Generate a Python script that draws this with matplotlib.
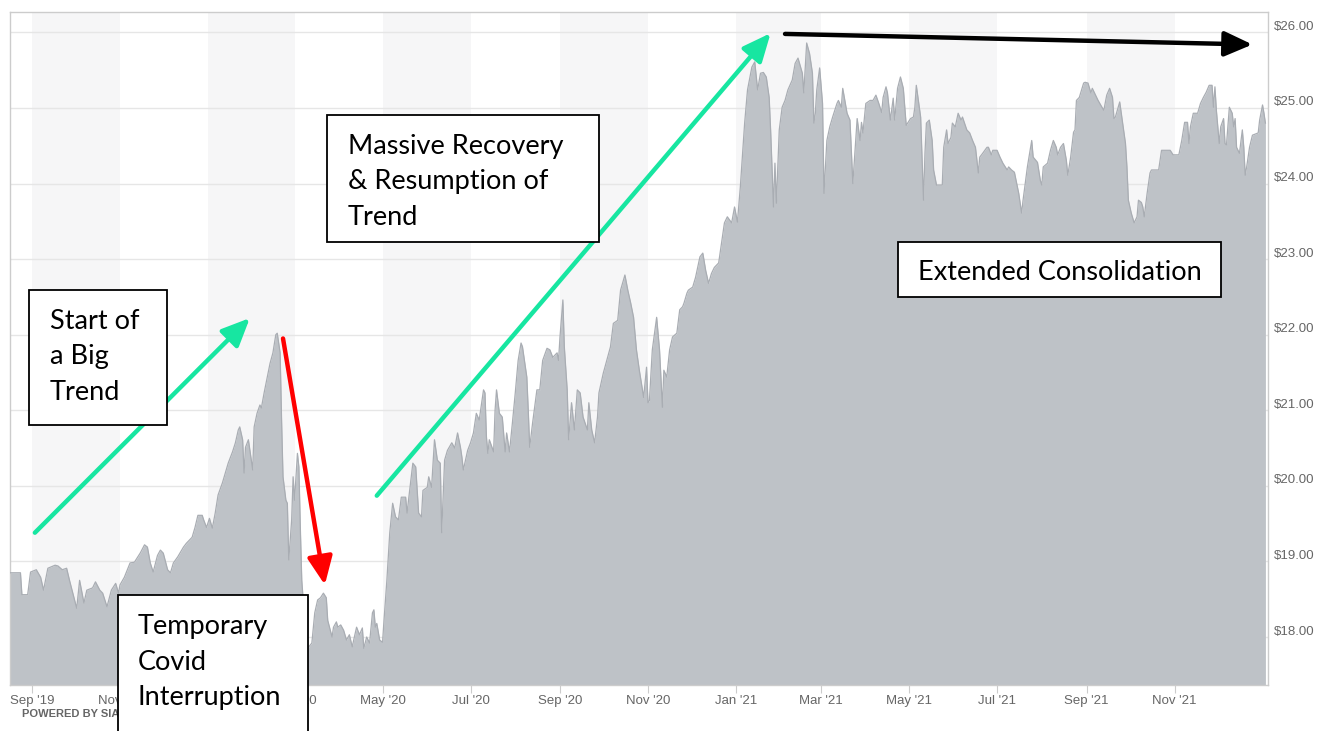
import numpy as np
import matplotlib
matplotlib.use("Agg")
import matplotlib.pyplot as plt
import matplotlib.dates as mdates
from matplotlib.patches import Rectangle
from matplotlib.transforms import ScaledTranslation

# ---------------- data ----------------
start_date = "2019-09-01"   # day 0 of the day offsets below

days = [-15, -8, -7, -3, -1, 3, 6, 8, 11, 16, 18, 21, 24, 26, 31, 33, 36, 38, 42, 44,
        47, 49, 52, 55, 58, 60, 61, 64, 68, 71, 75, 78, 80, 82, 84, 87, 89, 91, 94, 96,
        98, 101, 105, 107, 111, 113, 115, 118, 119, 121, 123, 125, 127, 129, 132, 136, 139, 141, 143, 144,
        146, 147, 148, 150, 153, 154, 156, 158, 159, 161, 163, 165, 167, 169, 170, 172, 173, 174, 176, 177,
        178, 180, 181, 182, 184, 185, 186, 187, 189, 191, 194, 196, 198, 200, 202, 204, 205, 208, 209, 211,
        212, 214, 216, 218, 220, 222, 223, 225, 227, 229, 230, 232, 234, 236, 237, 238, 239, 241, 243, 244,
        246, 248, 250, 252, 254, 256, 259, 260, 261, 264, 266, 268, 270, 271, 274, 275, 277, 279, 281, 283,
        284, 286, 288, 291, 293, 295, 297, 298, 299, 302, 304, 306, 308, 310, 313, 314, 315, 316, 317, 320,
        321, 322, 324, 326, 328, 329, 331, 333, 335, 337, 339, 340, 343, 344, 345, 347, 350, 352, 354, 357,
        359, 361, 364, 365, 366, 368, 369, 371, 372, 374, 376, 378, 380, 382, 385, 386, 388, 390, 392, 393,
        396, 399, 401, 403, 406, 408, 411, 413, 415, 417, 419, 421, 424, 426, 427, 428, 430, 433, 435, 437,
        438, 440, 442, 444, 447, 449, 451, 452, 454, 455, 458, 460, 461, 463, 465, 467, 469, 471, 473, 476,
        478, 480, 482, 485, 487, 489, 491, 494, 496, 499, 501, 503, 505, 507, 509, 511, 512, 514, 515, 516,
        518, 520, 522, 524, 527, 529, 531, 534, 535, 537, 539, 541, 542, 543, 544, 546, 548, 549, 551, 553,
        555, 558, 559, 561, 562, 565, 567, 569, 571, 572, 574, 575, 576, 578, 581, 583, 585, 587, 589, 590,
        592, 593, 595, 597, 598, 600, 602, 604, 606, 609, 611, 612, 613, 616, 617, 618, 619, 620, 622, 624,
        625, 627, 631, 632, 634, 635, 637, 638, 640, 642, 644, 645, 648, 650, 652, 654, 656, 657, 659, 662,
        663, 665, 666, 669, 671, 673, 676, 677, 679, 681, 684, 686, 687, 690, 693, 694, 697, 699, 700, 701,
        704, 706, 708, 710, 711, 713, 715, 717, 718, 720, 722, 723, 724, 726, 729, 730, 732, 734, 735, 738,
        739, 742, 743, 745, 747, 749, 750, 751, 753, 754, 756, 758, 759, 760, 762, 764, 766, 767, 769, 770,
        771, 773, 775, 776, 780, 781, 783, 787, 789, 791, 795, 797, 799, 801, 802, 803, 805, 808, 810, 812,
        814, 816, 818, 819, 820, 821, 823, 824, 826, 827, 828, 830, 832, 833, 834, 835, 837, 839, 840, 841,
        842, 844, 846, 850, 851, 853, 854, 855]

prices = [18.85, 18.85, 18.56, 18.56, 18.86, 18.89, 18.79, 18.62, 18.91, 18.95, 18.94, 18.89, 18.91, 18.75, 18.38, 18.75, 18.45, 18.62, 18.65, 18.73,
          18.62, 18.58, 18.40, 18.62, 18.71, 18.58, 18.69, 18.79, 18.98, 18.99, 19.11, 19.22, 19.19, 18.98, 18.86, 19.08, 19.15, 19.11, 18.89, 18.85,
          18.98, 19.06, 19.19, 19.24, 19.32, 19.45, 19.61, 19.61, 19.55, 19.45, 19.57, 19.44, 19.64, 19.88, 20.04, 20.30, 20.45, 20.57, 20.74, 20.78,
          20.61, 20.17, 20.51, 20.61, 20.21, 20.78, 20.96, 21.07, 21.03, 21.24, 21.43, 21.62, 21.76, 22.00, 22.02, 21.76, 20.87, 20.12, 19.81, 19.77,
          19.02, 19.55, 20.12, 19.81, 20.43, 20.25, 19.45, 18.75, 18.22, 17.85, 17.92, 18.32, 18.49, 18.52, 18.58, 18.52, 18.22, 18.00, 18.13, 18.20,
          18.13, 18.16, 18.09, 17.96, 18.03, 17.87, 17.96, 18.13, 18.03, 18.12, 17.85, 18.00, 17.92, 18.32, 18.36, 18.13, 18.18, 17.96, 17.93, 18.22,
          18.75, 19.38, 19.77, 19.59, 19.55, 19.85, 19.85, 19.64, 19.81, 20.30, 20.25, 19.64, 19.59, 19.94, 19.98, 20.12, 19.98, 20.61, 20.34, 20.30,
          19.38, 20.34, 20.47, 20.57, 20.50, 20.70, 20.51, 20.38, 20.21, 20.47, 20.57, 20.70, 20.96, 20.87, 21.27, 21.23, 20.65, 20.43, 20.61, 20.45,
          21.00, 21.27, 20.96, 20.91, 20.45, 20.70, 20.45, 20.83, 21.23, 21.66, 21.89, 21.84, 21.44, 21.00, 20.51, 20.83, 21.27, 21.27, 21.66, 21.82,
          21.80, 21.70, 21.76, 21.66, 21.97, 22.46, 21.84, 21.27, 20.61, 21.10, 20.74, 21.27, 21.23, 20.91, 20.74, 21.10, 20.74, 20.57, 20.91, 21.23,
          21.49, 21.70, 21.84, 22.15, 22.19, 22.59, 22.79, 22.59, 22.42, 22.23, 21.80, 21.53, 21.17, 21.57, 21.10, 21.13, 21.80, 22.23, 21.80, 21.04,
          21.53, 21.44, 21.80, 21.97, 22.02, 22.33, 22.37, 22.42, 22.55, 22.59, 22.63, 22.76, 22.85, 23.03, 23.08, 22.85, 22.68, 22.81, 22.89, 22.95,
          23.21, 23.48, 23.56, 23.48, 23.69, 23.49, 23.95, 24.80, 25.24, 25.54, 25.61, 25.24, 25.46, 25.47, 25.41, 25.14, 24.71, 23.69, 24.27, 23.74,
          24.71, 25.01, 25.10, 25.24, 25.37, 25.59, 25.66, 25.46, 25.20, 25.86, 25.72, 25.46, 24.80, 24.93, 25.24, 25.53, 25.06, 23.87, 24.57, 24.75,
          24.88, 25.06, 25.10, 25.01, 25.26, 24.93, 24.84, 24.00, 24.57, 24.86, 24.57, 24.81, 24.67, 25.06, 25.10, 25.10, 25.17, 25.06, 24.94, 25.14,
          25.28, 25.20, 24.84, 25.13, 24.84, 25.26, 25.41, 25.26, 24.77, 24.86, 24.88, 25.01, 25.30, 24.88, 24.31, 23.78, 24.40, 24.80, 24.84, 24.57,
          24.18, 23.98, 23.98, 24.48, 24.71, 24.53, 24.61, 24.80, 24.75, 24.93, 24.84, 24.88, 24.71, 24.67, 24.57, 24.48, 24.14, 24.35, 24.40, 24.48,
          24.48, 24.38, 24.44, 24.44, 24.35, 24.27, 24.18, 24.22, 24.18, 24.15, 23.87, 23.61, 23.78, 24.22, 24.57, 24.35, 24.28, 24.04, 23.98, 24.22,
          24.27, 24.44, 24.57, 24.48, 24.38, 24.48, 24.53, 24.31, 24.11, 24.35, 24.68, 24.71, 25.10, 25.14, 25.33, 25.34, 25.33, 25.20, 25.26, 25.14,
          25.10, 25.00, 24.97, 25.17, 25.26, 25.14, 24.86, 24.88, 25.01, 25.08, 24.80, 24.53, 24.22, 23.78, 23.61, 23.48, 23.56, 23.78, 23.75, 23.69,
          23.56, 23.87, 24.14, 24.18, 24.18, 24.18, 24.44, 24.44, 24.44, 24.38, 24.38, 24.57, 24.81, 24.81, 24.53, 24.75, 24.93, 24.93, 25.06, 25.14,
          25.21, 25.30, 25.30, 25.01, 25.28, 24.97, 24.53, 24.75, 24.86, 24.53, 24.51, 25.01, 24.93, 24.75, 24.86, 24.48, 24.40, 24.71, 24.48, 24.11,
          24.22, 24.48, 24.64, 24.67, 24.84, 25.04, 24.93, 24.80]

tick_dates = ["2019-09-01", "2019-11-01", "2020-01-01", "2020-03-01", "2020-05-01", "2020-07-01", "2020-09-01",
              "2020-11-01", "2021-01-01", "2021-03-01", "2021-05-01", "2021-07-01", "2021-09-01", "2021-11-01"]
tick_labels = ["Sep '19", "Nov '19", "Jan '20", "Mar '20", "May '20", "Jul '20", "Sep '20",
               "Nov '20", "Jan '21", "Mar '21", "May '21", "Jul '21", "Sep '21", "Nov '21"]
band_starts = ["2019-09-01", "2020-01-01", "2020-05-01", "2020-09-01", "2021-01-01", "2021-05-01", "2021-09-01"]
band_ends = ["2019-11-01", "2020-03-01", "2020-07-01", "2020-11-01", "2021-03-01", "2021-07-01", "2021-11-01"]
price_ticks = [18, 19, 20, 21, 22, 23, 24, 25, 26]
price_tick_labels = ["$18.00", "$19.00", "$20.00", "$21.00", "$22.00", "$23.00", "$24.00", "$25.00", "$26.00"]

# annotation arrows: (start day, start price, end day, end price, colour)
arrow_start_days = [2, 174, 239, 522]
arrow_start_prices = [19.38, 21.95, 19.87, 25.98]
arrow_end_days = [151, 203, 512, 846]
arrow_end_prices = [22.22, 18.69, 25.99, 25.84]
arrow_colors = ["#17e6a1", "#ff0000", "#17e6a1", "#000000"]

box_texts = ["Start of\na Big\nTrend", "Massive Recovery\n& Resumption of\nTrend",
             "Temporary\nCovid\nInterruption", "Extended Consolidation"]

# ---------------- figure ----------------
W, H = 1328, 731
fig = plt.figure(figsize=(W / 100, H / 100), dpi=100)
fig.patch.set_facecolor("white")

ax_l, ax_r, ax_t, ax_b = 10, 1268, 12, 685
ax = fig.add_axes([ax_l / W, 1 - ax_b / H, (ax_r - ax_l) / W, (ax_b - ax_t) / H])

base = np.datetime64(start_date)
dates = base + np.array(days, dtype="timedelta64[D]")
x = mdates.date2num(dates.astype("datetime64[s]").astype(object))
y = np.array(prices)

def dnum(s):
    return mdates.date2num(np.datetime64(s).astype("datetime64[s]").astype(object))

def daynum(d):
    return mdates.date2num((base + np.timedelta64(int(round(d * 24)), "h")).astype("datetime64[s]").astype(object))

ymin, ymax = 17.365, 26.27
for s, e in zip(band_starts, band_ends):
    ax.axvspan(dnum(s), dnum(e), color="#f6f6f7", zorder=0, lw=0)
for p in price_ticks:
    ax.axhline(p, color="#e6e6e6", lw=1, zorder=1)

ax.fill_between(x, ymin - 1, y, color="#bec2c7", lw=0, zorder=2)
ax.plot(x, y, color="#a9adb3", lw=0.9, zorder=3)

ax.set_xlim(daynum(-15.25), daynum(856.8))
ax.set_ylim(ymin, ymax)

ax.set_xticks([dnum(t) for t in tick_dates])
ax.set_xticklabels(tick_labels)
ax.tick_params(axis="x", length=6, color="#cccccc", labelsize=9.5, labelcolor="#666666", pad=1)
for lab in ax.get_xticklabels():
    lab.set_fontfamily("Liberation Sans")

ax.yaxis.tick_right()
ax.set_yticks(price_ticks)
ax.set_yticklabels(price_tick_labels)
ax.tick_params(axis="y", length=0, labelsize=9.5, labelcolor="#666666", pad=4)
for lab in ax.get_yticklabels():
    lab.set_fontfamily("Liberation Sans")
    lab.set_transform(lab.get_transform() + ScaledTranslation(0, 7 / 100, fig.dpi_scale_trans))

for sp in ax.spines.values():
    sp.set_color("#cccccc")
    sp.set_linewidth(1)

fig.text(22 / W, 1 - 714 / H, "POWERED BY SIACHARTS", fontsize=8, fontweight="bold",
         color="#666666", family="Liberation Sans", va="center", ha="left")

# arrows
for sd, sp_, ed, ep, c in zip(arrow_start_days, arrow_start_prices, arrow_end_days, arrow_end_prices, arrow_colors):
    ax.annotate("", xy=(daynum(ed), ep), xytext=(daynum(sd), sp_),
                arrowprops=dict(arrowstyle="-|>,head_length=0.85,head_width=0.38", lw=3.2, color=c,
                                shrinkA=0, shrinkB=0, mutation_scale=20),
                zorder=6, annotation_clip=False)

# text boxes (pixel layout: left, top, right, bottom ; text x, first baseline y)
box_rects = [(29, 290, 167, 425), (327, 115, 599, 242), (118, 595, 308, 740), (898, 242, 1221, 297)]
text_pos = [(50, 329), (348, 154), (138, 634), (918, 280)]
line_pitch = 35.5
for (l, t, r, b), (tx, ty), s in zip(box_rects, text_pos, box_texts):
    fig.add_artist(Rectangle((l / W, 1 - b / H), (r - l) / W, (b - t) / H, transform=fig.transFigure,
                             facecolor="white", edgecolor="black", lw=1.3, zorder=10))
    for i, line in enumerate(s.split("\n")):
        fig.text(tx / W, 1 - (ty + i * line_pitch) / H, line, fontsize=19.5, family="Lato",
                 color="black", va="baseline", ha="left", zorder=11)

fig.savefig("out.png", dpi=100)
